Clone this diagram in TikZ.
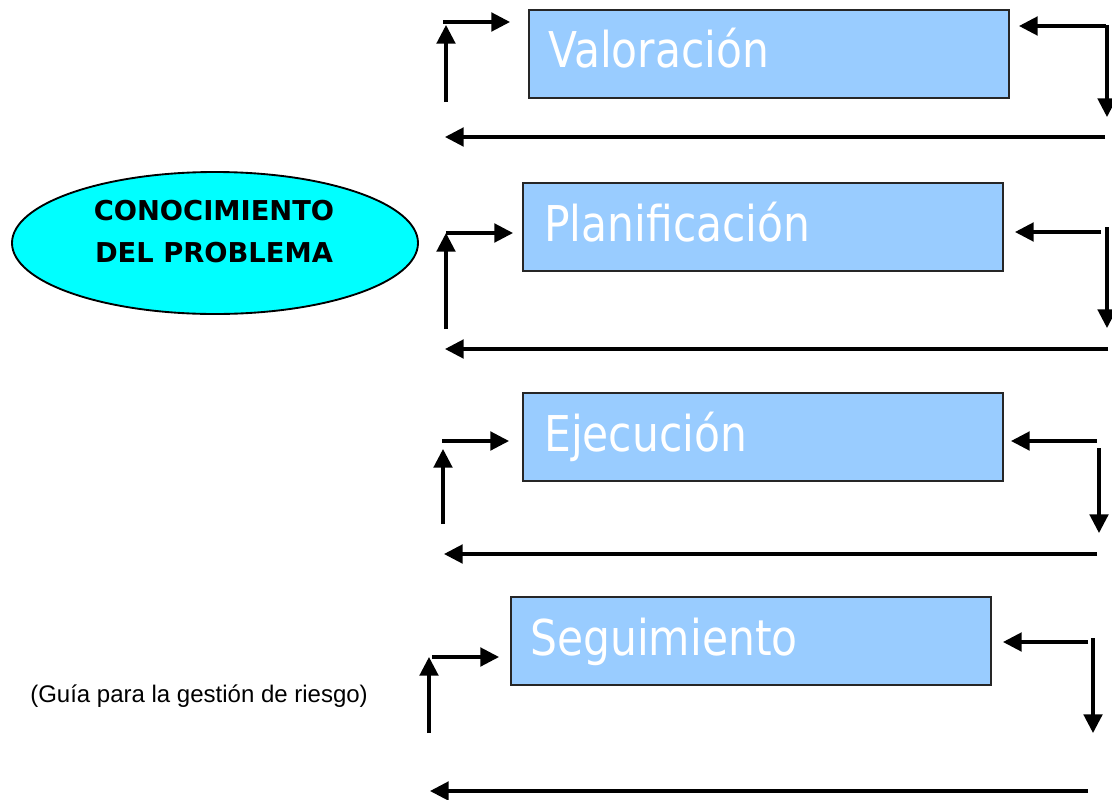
\documentclass[tikz,border=0pt]{standalone}
\usepackage{fontspec}
\setmainfont{DejaVu Sans}
\newfontfamily\boxfont[FakeStretch=0.86]{DejaVu Sans}
\newfontfamily\ellfont{DejaVu Sans}
\newfontfamily\capfont{Liberation Sans}
\usetikzlibrary{arrows.meta,shapes.geometric}
\definecolor{boxblue}{HTML}{99CCFF}
\definecolor{ellcyan}{HTML}{00FFFF}
\begin{document}
\begin{tikzpicture}[x=0.75pt,y=-0.75pt,
  box/.style={draw=black!85, line width=1.6pt, fill=boxblue, minimum width=360pt, minimum height=66pt, anchor=north west, inner sep=0pt},
  boxtext/.style={anchor=base west, text=white, font=\boxfont\fontsize{37}{42}\selectfont, inner sep=0pt},
  arr/.style={line width=2.3pt, -{Triangle[length=14pt,width=14pt]}}]
\useasboundingbox (0,0) rectangle (1112,799);

% ellipse
\node[ellipse, draw=black, line width=1.4pt, fill=ellcyan, minimum width=304.5pt, minimum height=106.5pt, inner sep=0pt] (cp) at (215,243) {};
\node[font=\ellfont\bfseries\fontsize{20.5}{31.5}\selectfont, align=center, anchor=base, inner sep=0pt] (cpt) at (214,262) {CONOCIMIENTO\\DEL PROBLEMA};

% caption
\node[font=\capfont\fontsize{18}{21}\selectfont, anchor=base west, inner sep=0pt] (cap) at (30,702) {(Guía para la gestión de riesgo)};

% ---------- block 1
\node[box] (b1) at (528,9) {};
\node[boxtext] (t1) at (548,68) {Valoración};
\coordinate (l1a) at (446,102); \coordinate (l1b) at (446,25);
\coordinate (l1c) at (443,22);  \coordinate (l1d) at (510,22);
\coordinate (r1a) at (1106,26); \coordinate (r1b) at (1019,26);
\coordinate (r1c) at (1107,25); \coordinate (r1d) at (1107,117);
\coordinate (u1a) at (1105,137); \coordinate (u1b) at (445,137);
\draw[arr] (l1a) -- (l1b);
\draw[arr] (l1c) -- (l1d);
\draw[arr] (r1a) -- (r1b);
\draw[arr] (r1c) -- (r1d);
\draw[arr] (u1a) -- (u1b);

% ---------- block 2
\node[box] (b2) at (522,182) {};
\node[boxtext] (t2) at (544,241) {Planificación};
\coordinate (l2a) at (446,329); \coordinate (l2b) at (446,233);
\coordinate (l2c) at (446,233); \coordinate (l2d) at (513,233);
\coordinate (r2a) at (1101,232); \coordinate (r2b) at (1015,232);
\coordinate (r2c) at (1107,227); \coordinate (r2d) at (1107,328);
\coordinate (u2a) at (1108,349); \coordinate (u2b) at (445,349);
\draw[arr] (l2a) -- (l2b);
\draw[arr] (l2c) -- (l2d);
\draw[arr] (r2a) -- (r2b);
\draw[arr] (r2c) -- (r2d);
\draw[arr] (u2a) -- (u2b);

% ---------- block 3
\node[box] (b3) at (522,392) {};
\node[boxtext] (t3) at (544,451) {Ejecución};
\coordinate (l3a) at (443,524); \coordinate (l3b) at (443,449);
\coordinate (l3c) at (442,441); \coordinate (l3d) at (509,441);
\coordinate (r3a) at (1097,441); \coordinate (r3b) at (1011,441);
\coordinate (r3c) at (1099,448); \coordinate (r3d) at (1099,533);
\coordinate (u3a) at (1097,554); \coordinate (u3b) at (444,554);
\draw[arr] (l3a) -- (l3b);
\draw[arr] (l3c) -- (l3d);
\draw[arr] (r3a) -- (r3b);
\draw[arr] (r3c) -- (r3d);
\draw[arr] (u3a) -- (u3b);

% ---------- block 4
\node[box] (b4) at (510,596) {};
\node[boxtext] (t4) at (530,655) {Seguimiento};
\coordinate (l4a) at (429,733); \coordinate (l4b) at (429,657);
\coordinate (l4c) at (432,657); \coordinate (l4d) at (499,657);
\coordinate (r4a) at (1088,642); \coordinate (r4b) at (1003,642);
\coordinate (r4c) at (1093,638); \coordinate (r4d) at (1093,733);
\coordinate (u4a) at (1088,791); \coordinate (u4b) at (430,791);
\draw[arr] (l4a) -- (l4b);
\draw[arr] (l4c) -- (l4d);
\draw[arr] (r4a) -- (r4b);
\draw[arr] (r4c) -- (r4d);
\draw[arr] (u4a) -- (u4b);
\end{tikzpicture}
\end{document}
